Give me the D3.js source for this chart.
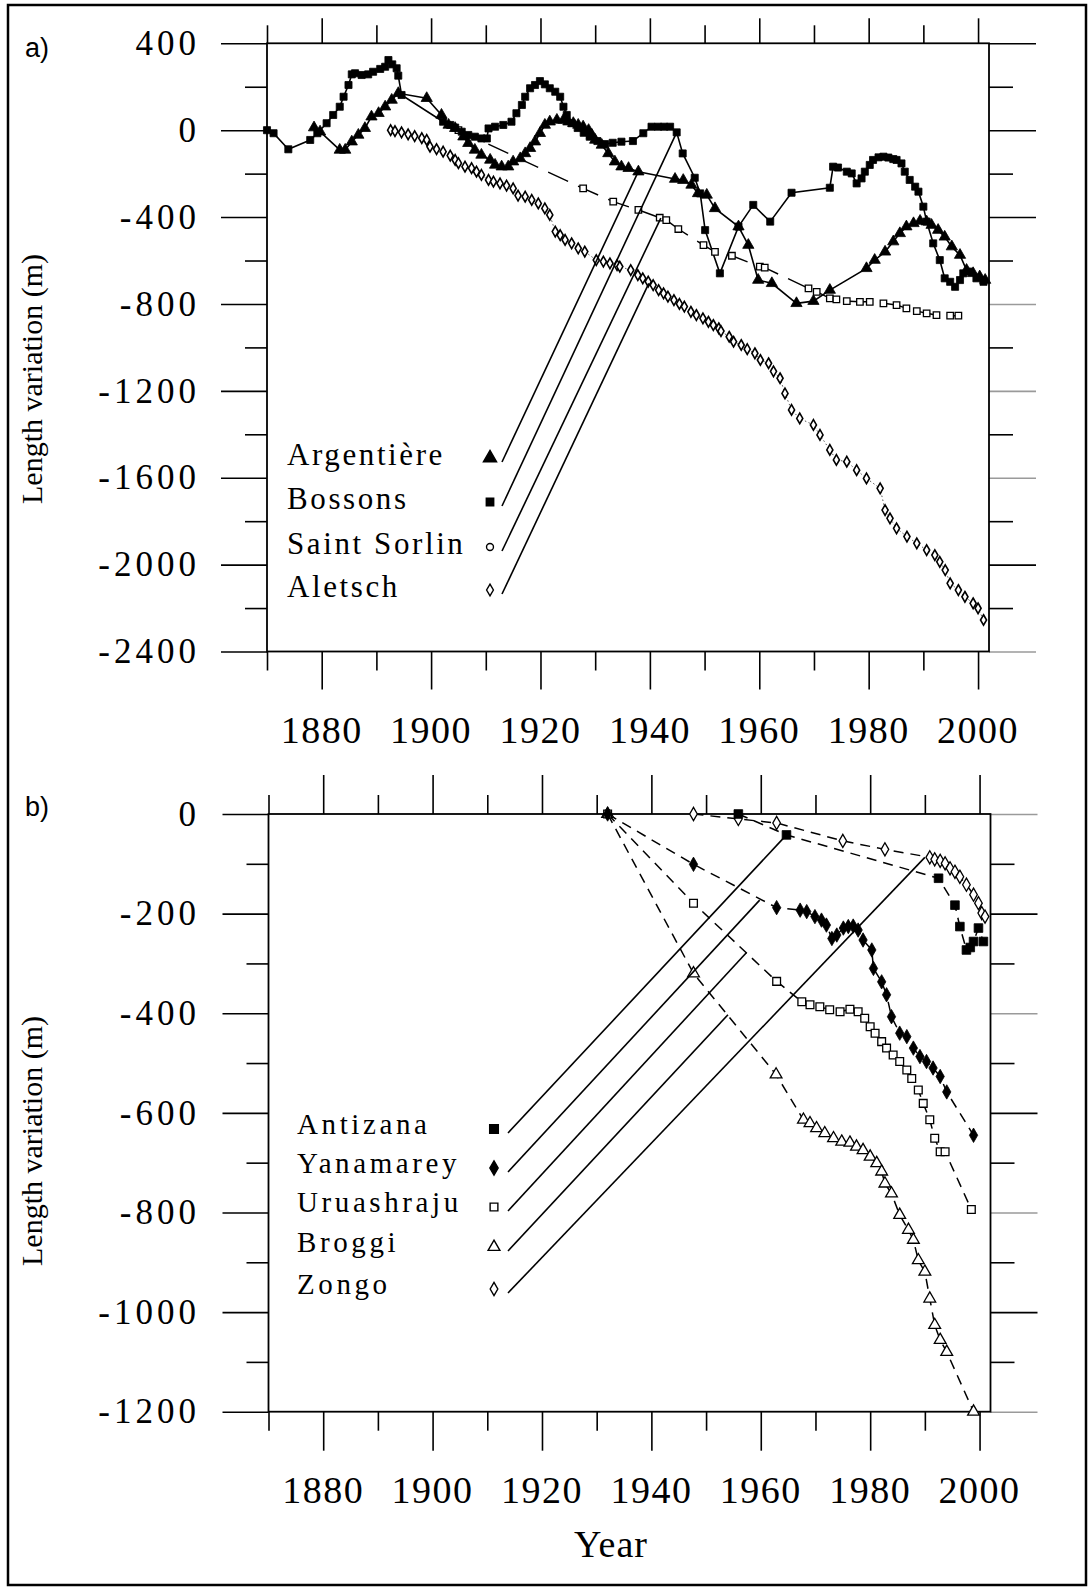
<!DOCTYPE html>
<html>
<head>
<meta charset="utf-8">
<script src="https://cdnjs.cloudflare.com/ajax/libs/d3/7.8.5/d3.min.js"></script>
<style>
  body { margin: 0; background: #fff; }
  svg { display: block; }
</style>
</head>
<body>
<svg id="chart" width="1088" height="1587"></svg>
<script>
// ---- data (year, length variation in m) ----
var argentiere = [[1878.6,12],[1879.7,-7],[1883.3,-91],[1884.3,-91],[1885.5,-53],[1886.7,-22],[1887.9,9],[1889.1,62],
  [1890.4,78],[1891.6,108],[1892.8,139],[1894,170],[1899.2,147],[1901.9,70],[1903.2,24],[1904.4,9],[1905.9,-30],
  [1906.8,-60],[1908,-91],[1909.2,-114],[1910.8,-137],[1911.7,-160],[1912.9,-168],[1914.1,-168],[1915,-145],
  [1916.3,-130],[1917.2,-107],[1918.1,-83],[1919,-53],[1919.9,-14],[1920.8,24],[1921.7,39],[1923,47],[1924.2,47],
  [1925.1,39],[1926,32],[1926.9,24],[1927.8,16],[1928.8,0],[1929.4,-22],[1930,-45],[1931.2,-68],[1932.4,-107],
  [1933.6,-145],[1934.8,-168],[1936.1,-175],[1937.9,-191],[1944.6,-225],[1946.1,-230],[1947.6,-252],[1948.8,-291],
  [1950.4,-298],[1951.9,-360],[1956.2,-444],[1958,-529],[1959.8,-690],[1962.3,-705],[1966.8,-797],[1969.9,-787],
  [1972.9,-736],[1979.6,-636],[1981.1,-598],[1983,-560],[1984.5,-513],[1985.7,-475],[1986.9,-444],[1988.2,-429],
  [1989.4,-418],[1990.6,-421],[1991.5,-437],[1992.7,-460],[1993.9,-491],[1995.2,-536],[1996.7,-575],[1997.9,-644],
  [1999.1,-659],[2000.3,-674],[2001.3,-690]];

var bossons = [[1870,0],[1871.2,-14],[1873.9,-88],[1877.9,-45],[1879.2,-14],[1880.9,32],[1882.1,70],[1883.3,108],
  [1884,154],[1884.9,208],[1885.5,257],[1886.1,262],[1887.3,254],[1888.5,257],[1889.4,269],[1890.7,282],[1891.6,292],
  [1892.2,323],[1892.9,303],[1893.7,285],[1894,251],[1894.6,162],[1902.2,39],[1903.5,24],[1904.4,12],[1905.6,-7],
  [1906.8,-22],[1908,-30],[1909.2,-38],[1910.2,-38],[1910.5,8],[1911.7,16],[1913.2,24],[1914.7,39],[1915.6,78],
  [1916.6,116],[1917.2,154],[1918.1,193],[1919,208],[1919.9,226],[1920.8,211],[1921.7,193],[1922.7,177],[1923.6,154],
  [1924.2,108],[1924.8,70],[1925.7,32],[1926.8,10],[1927.9,-12],[1929,-30],[1930.4,-50],[1931.8,-64],[1933.2,-58],
  [1934.8,-53],[1936.9,-50],[1938.8,-14],[1940.3,16],[1941.5,16],[1942.6,16],[1943.7,16],[1944.9,-10],[1946,-107],
  [1948.2,-219],[1949.2,-291],[1950.1,-460],[1952.8,-659],[1956.2,-444],[1958.9,-344],[1962,-421],[1965.9,-288],
  [1972.9,-265],[1973.5,-168],[1974.4,-172],[1976,-191],[1976.9,-199],[1977.8,-245],[1978.7,-222],[1979.3,-191],
  [1980.2,-160],[1980.8,-137],[1981.8,-125],[1982.7,-122],[1983.6,-126],[1984.5,-133],[1985.1,-137],[1986,-153],
  [1986.6,-191],[1987.5,-229],[1988.5,-260],[1989.1,-283],[1990,-352],[1990.6,-421],[1991.8,-521],[1993,-598],
  [1993.9,-682],[1994.9,-698],[1995.8,-721],[1996.7,-690],[1997.3,-659],[1998.5,-651],[1999.7,-682],[2001,-698]];

var saintSorlin = [[1905,0],[1927.8,-268],[1933.3,-329],[1937.9,-367],[1941.8,-403],[1943,-414],[1945.2,-455],
  [1949.8,-529],[1951.9,-560],[1955,-578],[1960.1,-628],[1961,-633],[1969,-728],[1970.5,-744],[1972.9,-774],
  [1974.1,-779],[1976,-787],[1978.4,-790],[1980.2,-790],[1982.7,-797],[1985.1,-805],[1986.9,-820],[1988.8,-833],
  [1990.6,-843],[1992.4,-851],[1994.9,-854],[1996.4,-854]];

var aletsch = [[1892.6,0],[1893.4,-4],[1894.6,-10],[1895.8,-19],[1897,-27],[1898.3,-37],[1899.2,-45],[1899.8,-76],
  [1901,-87],[1902.2,-99],[1903.5,-117],[1904.4,-137],[1905,-152],[1906.2,-168],[1907.4,-175],[1908.3,-191],
  [1909.2,-206],[1910.5,-229],[1911.4,-237],[1912.6,-245],[1913.8,-255],[1915,-268],[1915.9,-301],[1917.2,-306],
  [1918.4,-321],[1919.6,-337],[1920.8,-360],[1921.7,-390],[1922.7,-467],[1923.6,-483],[1924.5,-505],[1925.7,-521],
  [1926.9,-544],[1928.1,-559],[1930.2,-598],[1931.5,-605],[1932.7,-613],[1934,-621],[1934.5,-628],[1936.5,-644],
  [1937.8,-667],[1938.7,-682],[1939.7,-697],[1940.6,-713],[1941.6,-736],[1942.5,-751],[1943.3,-766],[1944.4,-782],
  [1945.4,-800],[1946.3,-812],[1947.5,-836],[1948.5,-851],[1949.7,-866],[1950.7,-882],[1951.6,-897],[1952.6,-912],
  [1953,-925],[1954.5,-951],[1955.3,-974],[1956.7,-989],[1957.8,-1008],[1959.2,-1027],[1960.2,-1058],
  [1961.7,-1073],[1962.6,-1110],[1963.8,-1142],[1964.7,-1212],[1965.9,-1288],[1967.4,-1327],[1969.9,-1357],
  [1971.1,-1403],[1972.9,-1472],[1974.1,-1518],[1976,-1526],[1977.8,-1565],[1979.6,-1603],[1982.1,-1649],
  [1983,-1749],[1983.9,-1787],[1985.1,-1833],[1987,-1871],[1988.8,-1902],[1990.6,-1933],[1992.1,-1956],
  [1993,-1987],[1994,-2025],[1994.9,-2086],[1996.4,-2117],[1997.6,-2148],[1999.1,-2178],[2000,-2201],[2001,-2255]];

var antizana = [[1955.9,0],[1964.7,-42],[1992.5,-129],[1995.5,-183],[1996.4,-226],[1997.6,-273],[1998.3,-268],
  [1998.9,-256],[1999.8,-229],[2000.7,-256]];

var yanamarey = [[1932,0],[1947.7,-101],[1962.9,-188],[1967.2,-193],[1968.4,-196],[1969.9,-206],[1971.1,-213],
  [1972,-223],[1973,-250],[1973.9,-243],[1975.1,-229],[1976,-226],[1976.9,-225],[1977.8,-233],[1978.7,-253],
  [1980.3,-273],[1980.6,-310],[1982.1,-337],[1983,-363],[1983.9,-407],[1985.4,-440],[1986.7,-447],[1987.9,-470],
  [1989.1,-487],[1990.3,-497],[1991.5,-510],[1992.8,-527],[1994,-558],[1998.9,-645]];

var uruashraju = [[1932,0],[1947.7,-179],[1962.9,-336],[1967.5,-377],[1969,-383],[1970.8,-387],[1972.6,-393],
  [1974.5,-397],[1976.3,-392],[1977.8,-397],[1979,-410],[1980,-427],[1980.9,-440],[1982.1,-457],[1983,-470],
  [1984.2,-484],[1985.4,-497],[1986.7,-514],[1987.6,-531],[1988.8,-554],[1989.7,-581],[1990.9,-614],[1991.8,-651],
  [1992.8,-678],[1993.7,-678],[1998.5,-794]];

var broggi = [[1932,0],[1947.7,-320],[1962.8,-523],[1967.8,-614],[1969,-621],[1970.2,-631],[1971.7,-641],
  [1973.3,-651],[1974.8,-658],[1976.3,-660],[1977.5,-668],[1978.7,-675],[1980,-688],[1981.2,-701],[1982.1,-718],
  [1982.7,-742],[1983.9,-762],[1985.4,-805],[1987,-835],[1987.9,-855],[1988.8,-896],[1990,-919],[1990.9,-973],
  [1991.8,-1026],[1992.8,-1056],[1994,-1080],[1998.9,-1200]];

var zongo = [[1947.7,0],[1955.9,-10],[1962.9,-18],[1975,-54],[1982.7,-71],[1990.9,-87],[1991.8,-91],[1992.8,-94],
  [1993.7,-99],[1994.6,-109],[1995.5,-116],[1996.4,-126],[1997.6,-142],[1998.9,-162],[1999.8,-179],[2000.4,-199],
  [2001,-206]];

// where each legend leader line touches its curve
var leaderA = [[1937.9,-190],[1944.9,-10],[1942,-405],[1939.8,-705]];
var leaderB = [[1964.7,-42],[1959.8,-173],[1957.4,-278],[1954,-403],[1990,-87]];

var namesA = ["Argentière", "Bossons", "Saint Sorlin", "Aletsch"];
var namesB = ["Antizana", "Yanamarey", "Uruashraju", "Broggi", "Zongo"];

var yearMajor = [1880, 1900, 1920, 1940, 1960, 1980, 2000];
var yearMinor = [1870, 1890, 1910, 1930, 1950, 1970, 1990];
var ticksAMajor = [400, 0, -400, -800, -1200, -1600, -2000, -2400];
var ticksAMinor = [200, -200, -600, -1000, -1400, -1800, -2200];
var ticksBMajor = [0, -200, -400, -600, -800, -1000, -1200];
var ticksBMinor = [-100, -300, -500, -700, -900, -1100];

// ---- drawing ----
var svg = d3.select("#chart");
var serif = "'Liberation Serif', 'Times New Roman', serif";

svg.append("rect")
  .attr("x", 8).attr("y", 5).attr("width", 1078).attr("height", 1580)
  .attr("fill", "#fff").attr("stroke", "#000").attr("stroke-width", 2.5);

function cleanAxis(g, grayList) {
  g.select(".domain").remove();
  g.selectAll(".tick line")
    .attr("stroke", function(d) { return grayList && grayList.indexOf(d) >= 0 ? "#9a9a9a" : "#000"; })
    .attr("stroke-width", 1.6);
}

function drawPanel(p) {
  var x = d3.scaleLinear().domain([1870, 2002]).range(p.xRange);
  var y = d3.scaleLinear().domain(p.yDomain).range(p.yRange);
  var left = p.xRange[0], right = p.xRange[1], top = p.yRange[1], bottom = p.yRange[0];
  var g = svg.append("g");

  // ticks on all four sides, pointing outward
  g.append("g").attr("transform", "translate(0," + top + ")")
    .call(d3.axisTop(x).tickValues(yearMajor).tickSize(p.topMajor).tickFormat(""))
    .call(cleanAxis);
  g.append("g").attr("transform", "translate(0," + top + ")")
    .call(d3.axisTop(x).tickValues(yearMinor).tickSize(p.topMinor).tickFormat(""))
    .call(cleanAxis);
  g.append("g").attr("transform", "translate(0," + bottom + ")")
    .call(d3.axisBottom(x).tickValues(yearMajor).tickSize(p.bottomMajor).tickFormat(""))
    .call(cleanAxis);
  g.append("g").attr("transform", "translate(0," + bottom + ")")
    .call(d3.axisBottom(x).tickValues(yearMinor).tickSize(19).tickFormat(""))
    .call(cleanAxis);
  g.append("g").attr("transform", "translate(" + left + ",0)")
    .call(d3.axisLeft(y).tickValues(p.yMajor).tickSize(46).tickFormat(""))
    .call(cleanAxis);
  g.append("g").attr("transform", "translate(" + left + ",0)")
    .call(d3.axisLeft(y).tickValues(p.yMinor).tickSize(22).tickFormat(""))
    .call(cleanAxis);
  g.append("g").attr("transform", "translate(" + right + ",0)")
    .call(d3.axisRight(y).tickValues(p.yMajor).tickSize(47).tickFormat(""))
    .call(function(a) { cleanAxis(a, p.grayRight); });
  g.append("g").attr("transform", "translate(" + right + ",0)")
    .call(d3.axisRight(y).tickValues(p.yMinor).tickSize(24).tickFormat(""))
    .call(cleanAxis);

  // plot frame
  g.append("rect")
    .attr("x", left).attr("y", top).attr("width", right - left).attr("height", bottom - top)
    .attr("fill", "none").attr("stroke", "#000").attr("stroke-width", 1.8);

  // tick labels
  g.append("g").selectAll("text").data(p.yMajor).join("text")
    .attr("x", 200).attr("y", function(d) { return y(d) + 11.7; })
    .attr("text-anchor", "end")
    .attr("font-family", serif).attr("font-size", 35).attr("letter-spacing", 4)
    .text(function(d) { return d; });
  g.append("g").selectAll("text").data(yearMajor).join("text")
    .attr("x", function(d) { return x(d); }).attr("y", bottom + 91)
    .attr("text-anchor", "middle")
    .attr("font-family", serif).attr("font-size", 38).attr("letter-spacing", 1.5)
    .text(function(d) { return d; });

  // axis title and panel letter
  g.append("text")
    .attr("transform", "translate(31," + p.titleY + ") rotate(-90)")
    .attr("text-anchor", "middle").attr("dominant-baseline", "central")
    .attr("font-family", serif).attr("font-size", 30)
    .text("Length variation (m)");
  g.append("text")
    .attr("x", 25).attr("y", p.letterY)
    .attr("font-family", "'Liberation Sans', Arial, sans-serif").attr("font-size", 27)
    .text(p.letter);

  // series: lines first, then markers
  var line = d3.line().x(function(d) { return x(d[0]); }).y(function(d) { return y(d[1]); });
  p.series.forEach(function(s) {
    g.append("path").datum(s.data)
      .attr("d", line).attr("fill", "none")
      .attr("stroke", s.lineColor || "#000").attr("stroke-width", s.lineWidth)
      .attr("stroke-dasharray", s.dash || null);
  });
  p.series.forEach(function(s) {
    g.append("g").selectAll("path").data(s.data).join("path")
      .attr("transform", function(d) { return "translate(" + x(d[0]) + "," + y(d[1]) + ")"; })
      .attr("d", d3.symbol(s.symbol, s.size))
      .attr("fill", s.filled ? "#000" : "#fff")
      .attr("stroke", "#000").attr("stroke-width", s.filled ? 0.8 : (s.stroke || 1.3));
  });

  // legend with leader lines to the curves
  p.legend.forEach(function(r, i) {
    var s = r.series;
    g.append("text")
      .attr("x", p.legendTextX).attr("y", r.baseline)
      .attr("font-family", serif).attr("font-size", p.legendFont).attr("letter-spacing", p.legendSpacing)
      .text(r.name);
    g.append("path")
      .attr("transform", "translate(" + p.legendSymX + "," + (r.baseline + p.symOffset) + ")")
      .attr("d", d3.symbol(r.legendSymbol || s.symbol, r.legendSize || s.size))
      .attr("fill", s.filled ? "#000" : "#fff")
      .attr("stroke", "#000").attr("stroke-width", 1.4);
    g.append("line")
      .attr("x1", p.leaderX).attr("y1", r.baseline + p.leaderOffset)
      .attr("x2", x(p.leaderEnds[i][0])).attr("y2", y(p.leaderEnds[i][1]))
      .attr("stroke", "#000").attr("stroke-width", 1.6);
  });
}

// panel a: Alps
var sArg = { data: argentiere, symbol: d3.symbolTriangle, size: 55, filled: true, lineWidth: 1.6 };
var sBos = { data: bossons, symbol: d3.symbolSquare, size: 50, filled: true, lineWidth: 1.6 };
var sSSo = { data: saintSorlin, symbol: d3.symbolSquare, size: 42, filled: false, lineWidth: 1.4, dash: "22,11" };
var sAle = { data: aletsch, symbol: d3.symbolDiamond, size: 32, filled: false, stroke: 1.6, lineWidth: 1, dash: "1.5,2.5", lineColor: "#555" };

drawPanel({
  letter: "a)", letterY: 57, titleY: 379,
  xRange: [267, 989], yDomain: [-2400, 400], yRange: [651.5, 43.3],
  yMajor: ticksAMajor, yMinor: ticksAMinor, grayRight: [-800, -1200, -1600, -2400],
  topMajor: 25, topMinor: 18, bottomMajor: 38,
  series: [sAle, sSSo, sArg, sBos],
  legendTextX: 287, legendSymX: 490, leaderX: 502, legendFont: 31, legendSpacing: 2.6,
  symOffset: -7, leaderOffset: -3,
  legend: [
    { name: namesA[0], series: sArg, baseline: 465, legendSize: 75 },
    { name: namesA[1], series: sBos, baseline: 509, legendSize: 55 },
    { name: namesA[2], series: sSSo, baseline: 554, legendSymbol: d3.symbolCircle, legendSize: 38 },
    { name: namesA[3], series: sAle, baseline: 597, legendSize: 40 }
  ],
  leaderEnds: leaderA
});

// panel b: Andes
var sAnt = { data: antizana, symbol: d3.symbolSquare, size: 75, filled: true, lineWidth: 1.5, dash: "10,7" };
var sYan = { data: yanamarey, symbol: d3.symbolDiamond, size: 60, filled: true, lineWidth: 1.5, dash: "10,7" };
var sUru = { data: uruashraju, symbol: d3.symbolSquare, size: 60, filled: false, lineWidth: 1.5, dash: "10,7" };
var sBro = { data: broggi, symbol: d3.symbolTriangle, size: 60, filled: false, lineWidth: 1.5, dash: "10,7" };
var sZon = { data: zongo, symbol: d3.symbolDiamond, size: 50, filled: false, lineWidth: 1.5, dash: "10,7" };

drawPanel({
  letter: "b)", letterY: 816, titleY: 1141,
  xRange: [268.5, 990.5], yDomain: [-1200, 0], yRange: [1411.7, 814],
  yMajor: ticksBMajor, yMinor: ticksBMinor, grayRight: [0, -400, -800, -1200],
  topMajor: 39, topMinor: 19, bottomMajor: 39,
  series: [sZon, sBro, sUru, sYan, sAnt],
  legendTextX: 297, legendSymX: 494, leaderX: 508, legendFont: 29, legendSpacing: 3.6,
  symOffset: -5, leaderOffset: -1,
  legend: [
    { name: namesB[0], series: sAnt, baseline: 1134 },
    { name: namesB[1], series: sYan, baseline: 1173 },
    { name: namesB[2], series: sUru, baseline: 1212 },
    { name: namesB[3], series: sBro, baseline: 1252 },
    { name: namesB[4], series: sZon, baseline: 1294 }
  ],
  leaderEnds: leaderB
});

// x-axis title
svg.append("text")
  .attr("x", 611).attr("y", 1557)
  .attr("text-anchor", "middle")
  .attr("font-family", serif).attr("font-size", 38).attr("letter-spacing", 1)
  .text("Year");
</script>
</body>
</html>
